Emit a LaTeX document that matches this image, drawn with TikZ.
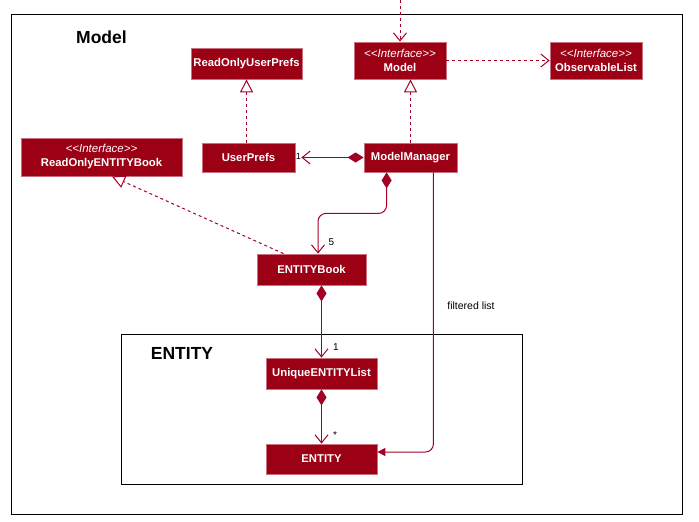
\documentclass[tikz,border=0pt]{standalone}
\usepackage{fontspec}
\setmainfont{Liberation Sans}
\usetikzlibrary{arrows.meta}
\definecolor{boxred}{HTML}{9B0014}
\definecolor{boxedge}{HTML}{C9707E}
\definecolor{linkred}{HTML}{A20025}

\begin{document}
\begin{tikzpicture}[x=1pt,y=-1pt,
  cls/.style={draw=boxedge,fill=boxred,text=white,line width=0.8pt,inner sep=0pt,
    align=center,font=\fontsize{11.3}{14}\selectfont\bfseries},
  link/.style={draw=linkred,line width=1pt},
  dep/.style={link,dash pattern=on 3pt off 3pt},
  mult/.style={font=\fontsize{10}{12}\selectfont,inner sep=0pt},
  pkg/.style={draw=black,line width=1pt},
  pkgname/.style={font=\fontsize{17.5}{20}\selectfont\bfseries,inner sep=0pt},
  openhead/.tip={Straight Barb[length=8pt,width=13pt]},
  realize/.tip={Triangle[length=13pt,width=13pt,fill=white]},
  compose/.tip={Diamond[length=16pt,width=10pt]},
  fillhead/.tip={Triangle[length=8pt,width=8pt]}]
   \newcommand{\interfaceTag}{%
        {\mdseries\itshape\fontsize{11.5}{14}\selectfont<\kern0pt<Interface>\kern0pt>}%
    }
\useasboundingbox (0,0) rectangle (699,522);

% packages
\draw[pkg] (11,14) rectangle (682,514);
\draw[pkg] (121,334) rectangle (522,484);
\node[pkgname] (modelpkg) at (101.5,37.5) {Model};
\node[pkgname] (entitypkg) at (182,353.5) {ENTITY};

% classes
\node[cls,minimum width=111pt,minimum height=31pt] (readonlyuserprefs) at (246.5,63.5) {ReadOnlyUserPrefs};
\node[cls,minimum width=92pt,minimum height=37pt] (model) at (400,60.5) {\interfaceTag\\Model};
\node[cls,minimum width=92pt,minimum height=37pt] (observablelist) at (596,60.5) {\interfaceTag\\ObservableList};
\node[cls,minimum width=161pt,minimum height=38pt] (readonlyentitybook) at (101.5,157) {\interfaceTag\\ReadOnlyENTITYBook};
\node[cls,minimum width=93pt,minimum height=29pt] (userprefs) at (248.5,157.5) {UserPrefs};
\node[cls,minimum width=93pt,minimum height=29pt] (modelmanager) at (410.5,157.5) {ModelManager};
\node[cls,minimum width=109pt,minimum height=31pt] (entitybook) at (311.5,269.5) {ENTITYBook};
\node[cls,minimum width=111pt,minimum height=31pt] (uniquelist) at (321.5,373.5) {UniqueENTITYList};
\node[cls,minimum width=111pt,minimum height=30pt] (entity) at (321.5,459) {ENTITY};

\coordinate (caller) at (400,0);

% links
\draw[dep,-openhead] (caller) -- (model);
\draw[dep,-openhead] (model) -- (observablelist);
\draw[dep,-realize] (userprefs.north -| readonlyuserprefs.south) -- (readonlyuserprefs.south);
\draw[dep,-realize] (modelmanager.north) -- (modelmanager.north |- model.south);
\draw[link,compose-openhead] (modelmanager) -- ([xshift=6pt]userprefs.east);
\node[mult,font=\fontsize{9}{11}\selectfont] (userprefsmult) at ([xshift=3pt,yshift=1.5pt]userprefs.east) {1};
\draw[link,compose-openhead,rounded corners=8pt] ([xshift=23pt]modelmanager.south west) -- ++(0,41) -| ([xshift=6.5pt]entitybook.north);
\node[mult] (bookmult) at ([xshift=20pt,yshift=11pt]entitybook.north) {5};
\draw[dep,-realize] ([xshift=-28pt]entitybook.north) -- ([xshift=10.5pt]readonlyentitybook.south);
\draw[link,compose-openhead] (entitybook.south -| uniquelist) -- (uniquelist);
\node[mult] (listmult) at ([xshift=14.5pt,yshift=10.5pt]uniquelist.north) {1};
\draw[link,compose-openhead] (uniquelist) -- (entity);
\node[mult] (entitymult) at ([xshift=13.5pt,yshift=9pt]entity.north) {*};
\draw[link,-fillhead,rounded corners=8pt] ([xshift=-24pt]modelmanager.south east) |- ([yshift=7pt]entity.east);
\node[font=\fontsize{10.5}{12}\selectfont,inner sep=0pt] (filterlbl) at (471,306) {filtered list};
\end{tikzpicture}
\end{document}
